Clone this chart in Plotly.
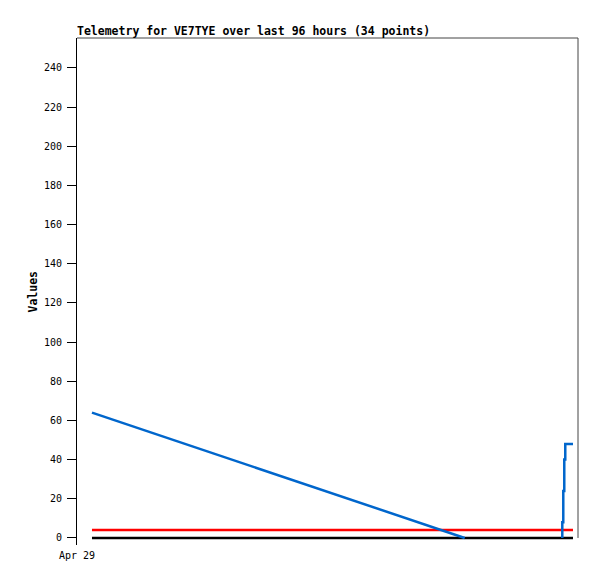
import plotly.graph_objects as go

# Data (hours since start of 96-hour window)
red_hours = [2.87, 95.04]
red_values = [4, 4]
black_hours = [2.87, 95.04]
black_values = [0, 0]
blue_fall_hours = [2.87, 74.3]
blue_fall_values = [64, 0]
blue_rise_hours = [92.99, 92.99, 93.18, 93.18, 93.37, 93.37, 93.56, 93.56, 95.04]
blue_rise_values = [0, 8, 8, 24, 24, 40, 40, 48, 48]
y_ticks = list(range(0, 241, 20))
x_tick_vals = [0]
x_tick_text = ["Apr 29"]

MONO = "DejaVu Sans Mono"
BLUE = "#0066cc"

# page body has an 8px default margin; figure sized to compensate
W, H = 589, 571

fig = go.Figure()
fig.add_trace(go.Scatter(x=black_hours, y=black_values, mode="lines",
                         line=dict(color="#000000", width=2.5), hoverinfo="skip"))
fig.add_trace(go.Scatter(x=red_hours, y=red_values, mode="lines",
                         line=dict(color="#ff0000", width=2.5), hoverinfo="skip"))
fig.add_trace(go.Scatter(x=blue_fall_hours, y=blue_fall_values, mode="lines",
                         line=dict(color=BLUE, width=2.5), hoverinfo="skip"))
fig.add_trace(go.Scatter(x=blue_rise_hours, y=blue_rise_values, mode="lines",
                         line=dict(color=BLUE, width=2.5), hoverinfo="skip"))

fig.update_layout(
    width=W, height=H,
    margin=dict(l=69, r=19, t=30, b=34),
    paper_bgcolor="white", plot_bgcolor="white",
    showlegend=False,
    title=dict(text="<b>Telemetry for VE7TYE over last 96 hours (34 points)</b>",
               x=69/W, xanchor="left", xref="container",
               y=1 - 23/H, yanchor="middle", yref="container",
               font=dict(family=MONO, size=11.5, color="#000")),
    font=dict(family=MONO, size=10, color="#000"),
    xaxis=dict(range=[0, 96], showgrid=False, zeroline=False, showline=False,
               tickvals=x_tick_vals, ticktext=x_tick_text, ticks="",
               ticklabelstandoff=3,
               tickfont=dict(family=MONO, size=10, color="#000")),
    yaxis=dict(range=[-3.6, 255.3], showgrid=False, zeroline=False,
               showline=True, linecolor="#000", linewidth=1, mirror=False,
               tickvals=y_ticks, ticks="outside", ticklen=9, tickcolor="#000",
               ticklabelstandoff=3,
               tickfont=dict(family=MONO, size=10, color="#000")),
    annotations=[dict(text="<b>Values</b>", textangle=-90,
                      xref="paper", yref="paper", x=(32 - 77) / 501, y=0.5,
                      xanchor="center", yanchor="middle", showarrow=False,
                      font=dict(family=MONO, size=11.5, color="#000"))],
    shapes=[
        dict(type="line", xref="paper", yref="paper", x0=0, x1=1, y0=1, y1=1,
             line=dict(color="#444", width=1)),
        dict(type="line", xref="paper", yref="y", x0=1, x1=1, y0=0, y1=255.3,
             line=dict(color="#444", width=1)),
    ],
)

fig.write_html("out.html")
